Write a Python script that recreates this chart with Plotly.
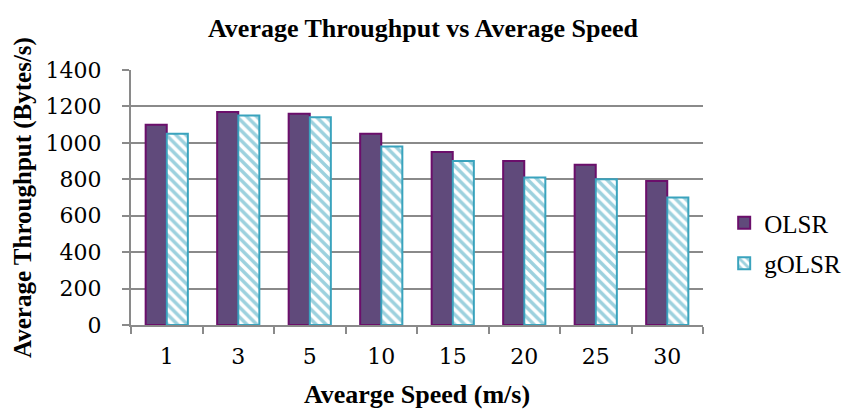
import plotly.graph_objects as go

speeds = ["1", "3", "5", "10", "15", "20", "25", "30"]
olsr = [1100, 1170, 1160, 1050, 950, 900, 880, 790]
golsr = [1050, 1150, 1140, 980, 900, 810, 800, 700]
y_ticks = [0, 200, 400, 600, 800, 1000, 1200, 1400]

serif = "Liberation Serif, Times New Roman, serif"
num_font = "DejaVu Serif, Cambria, serif"
grid = "#8a8a8a"

fig = go.Figure()
fig.add_trace(go.Bar(
    x=speeds, y=olsr, name="OLSR", legendgroup="a",
    marker=dict(color="#604a7b", line=dict(color="#6b0f6b", width=2)),
))
fig.add_trace(go.Bar(
    x=speeds, y=golsr, name="gOLSR", legendgroup="b",
    marker=dict(
        color="white",
        line=dict(color="#3aa3bd", width=2),
        pattern=dict(shape="\\", fgcolor="#3aa3bd", bgcolor="white",
                     size=7, solidity=0.5, fillmode="overlay"),
    ),
))

fig.update_layout(
    width=846, height=414,
    margin=dict(l=131, r=143, t=70, b=89, autoexpand=False),
    paper_bgcolor="white", plot_bgcolor="white",
    barmode="group", bargap=0.41, bargroupgap=0,
    font=dict(family=serif, color="black", size=18),
    title=dict(text="<b>Average Throughput vs Average Speed</b>",
               x=0.5, xanchor="center", y=0.932, yanchor="middle",
               font=dict(family=serif, size=26, color="black")),
    legend=dict(xref="container", yref="container",
                x=0.856, y=0.413, xanchor="left", yanchor="middle",
                font=dict(family=serif, size=25, color="black"),
                tracegroupgap=5, traceorder="grouped",
                itemsizing="constant"),
    xaxis=dict(
        title=dict(text="<b>Avearge Speed (m/s)</b>",
                   font=dict(family=serif, size=26), standoff=16),
        automargin=False,
        showline=True, linecolor=grid, linewidth=2,
        ticks="outside", tickson="boundaries", ticklen=7,
        tickcolor=grid, tickwidth=2, ticklabelstandoff=11,
        tickfont=dict(family=num_font, size=22),
        showgrid=False,
    ),
    yaxis=dict(
        title=dict(text="<b>Average Throughput (Bytes/s)</b>",
                   font=dict(family=serif, size=25), standoff=7),
        automargin=False,
        range=[0, 1400], tickvals=y_ticks,
        showline=True, linecolor=grid, linewidth=2,
        ticks="outside", ticklen=7, tickcolor=grid, tickwidth=2,
        ticklabelstandoff=16,
        showgrid=True, gridcolor=grid, gridwidth=2,
        zeroline=False,
        tickfont=dict(family=num_font, size=22),
    ),
)

fig.write_html("out.html")
